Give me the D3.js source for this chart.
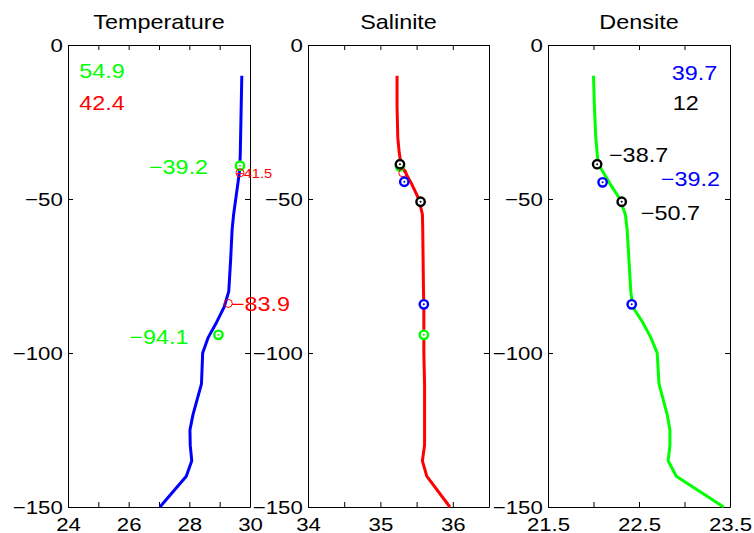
<!DOCTYPE html>
<meta charset="utf-8">
<style>
body { margin: 0; background: #fff; }
svg { font-family: "Liberation Sans", Arial, sans-serif; }
</style>
<body>
<script src="https://cdn.jsdelivr.net/npm/d3@7"></script>
<script>

// profile depths (m) and the three profiles
var depth = [-10, -20, -30, -35, -38, -40, -42, -45, -50, -55, -60, -70, -80, -85, -90, -95, -100, -110, -120, -125, -130, -135, -140, -150];
var temperature = [29.73, 29.71, 29.69, 29.68, 29.67, 29.66, 29.64, 29.60, 29.53, 29.46, 29.41, 29.36, 29.30, 29.15, 28.90, 28.62, 28.44, 28.40, 28.12, 28.02, 28.03, 28.08, 27.90, 27.03];
var salinite = [35.23, 35.23, 35.24, 35.26, 35.28, 35.31, 35.36, 35.43, 35.53, 35.58, 35.585, 35.59, 35.595, 35.60, 35.60, 35.60, 35.60, 35.61, 35.61, 35.61, 35.61, 35.58, 35.64, 35.96];
var densite = [22.00, 22.01, 22.025, 22.04, 22.05, 22.08, 22.12, 22.18, 22.29, 22.35, 22.37, 22.39, 22.41, 22.43, 22.54, 22.63, 22.70, 22.72, 22.81, 22.84, 22.84, 22.82, 22.91, 23.43];

// markers: panel, group, depth, value
var markers = [
    ["T", "vert", -39.2, 29.67], ["T", "vert", -94.1, 28.96],
    ["T", "rouge", -41.5, 29.67], ["T", "rouge", -83.9, 29.285],
    ["S", "vert", -39.4, 35.27], ["S", "vert", -94.1, 35.60],
    ["S", "rouge", -41.5, 35.31],
    ["S", "bleu", -44.4, 35.33], ["S", "bleu", -84.2, 35.60],
    ["S", "noir", -38.7, 35.27], ["S", "noir", -50.9, 35.555],
    ["D", "bleu", -44.6, 22.10], ["D", "bleu", -84.2, 22.42],
    ["D", "noir", -38.7, 22.04], ["D", "noir", -50.9, 22.31]
];

// text labels: panel, text, group
var labels = [
    ["T", "54.9", "vert"], ["T", "42.4", "rouge"], ["T", "\u221239.2", "vert"],
    ["T", "\u221241.5", "rouge"], ["T", "\u221283.9", "rouge"], ["T", "\u221294.1", "vert"],
    ["D", "39.7", "bleu"], ["D", "12", "noir"], ["D", "\u221238.7", "noir"],
    ["D", "\u221239.2", "bleu"], ["D", "\u221250.7", "noir"]
];
// where each label sits, in data units (value, depth, anchor, size)
var labelPlace = [
    [24.37, -8.4, "start", 20], [24.37, -18.7, "start", 20], [28.62, -39.5, "end", 20],
    [29.51, -41.9, "start", 12.5], [29.37, -84.1, "start", 20], [27.97, -94.7, "end", 20],
    [22.86, -9.2, "start", 20], [22.87, -18.7, "start", 20], [22.17, -35.7, "start", 20],
    [22.74, -43.5, "start", 20], [22.52, -54.6, "start", 20]
];

var yTicks = [0, -50, -100, -150];

var colors = {vert: "#00ff00", rouge: "#ff0000", bleu: "#0000ff", noir: "#000000"};
var sx = 1.17; // the figure text is stretched sideways

var panels = [
    {key: "T", title: "Temperature", left: 68, right: 250, domain: [24, 30], step: 1, shown: [24, 26, 28, 30], values: temperature, color: "#0000ff"},
    {key: "S", title: "Salinite", left: 308, right: 489, domain: [34, 36.5], step: 0.5, shown: [34, 35, 36], values: salinite, color: "#ff0000"},
    {key: "D", title: "Densite", left: 548, right: 730, domain: [21.5, 23.5], step: 0.5, shown: [21.5, 22.5, 23.5], values: densite, color: "#00ff00"}
];

var plotTop = 45, plotBottom = 507;

var svg = d3.select("body").append("svg")
    .attr("width", 754)
    .attr("height", 533);

var y = d3.scaleLinear().domain([0, -150]).range([plotTop, plotBottom]);

function fmt(v) {
    return (v < 0 ? "\u2212" : "") + Math.abs(v);
}

function styleAxis(g) {
    g.attr("font-family", null).attr("font-size", null);
    g.selectAll("path, line").attr("stroke", "#000").attr("stroke-width", 1);
    g.selectAll("text")
        .attr("fill", "#000")
        .style("font-size", "19px")
        .attr("transform", "scale(" + sx + ",1)");
}

panels.forEach(function (p) {
    var x = d3.scaleLinear().domain(p.domain).range([p.left, p.right]);
    var ticks = d3.range(p.domain[0], p.domain[1] + 1e-9, p.step);

    // title
    svg.append("text")
        .attr("transform", "translate(" + (p.left + p.right) / 2 + ",29) scale(" + sx + ",1)")
        .attr("text-anchor", "middle")
        .style("font-size", "20px")
        .text(p.title);

    // axes, ticks pointing in, box all round
    svg.append("g")
        .attr("transform", "translate(0," + plotBottom + ")")
        .call(d3.axisBottom(x).tickValues(ticks).tickSize(-5).tickSizeOuter(0).tickPadding(10.5)
            .tickFormat(function (d) {
                return p.shown.some(function (s) { return Math.abs(s - d) < 1e-9; }) ? fmt(d) : "";
            }))
        .call(styleAxis);
    svg.append("g")
        .attr("transform", "translate(0," + plotTop + ")")
        .call(d3.axisTop(x).tickValues(ticks).tickSize(-5).tickSizeOuter(0).tickFormat(""))
        .call(styleAxis);
    svg.append("g")
        .attr("transform", "translate(" + p.left + ",0)")
        .call(d3.axisLeft(y).tickValues(yTicks).tickSize(-5).tickSizeOuter(0).tickPadding(4.5).tickFormat(fmt))
        .call(styleAxis);
    svg.append("g")
        .attr("transform", "translate(" + p.right + ",0)")
        .call(d3.axisRight(y).tickValues(yTicks).tickSize(-5).tickSizeOuter(0).tickFormat(""))
        .call(styleAxis);

    // profile
    var line = d3.line()
        .x(function (d, i) { return x(p.values[i]); })
        .y(function (d) { return y(d); });
    svg.append("path")
        .datum(depth)
        .attr("d", line)
        .attr("fill", "none")
        .attr("stroke", p.color)
        .attr("stroke-width", 3)
        .attr("stroke-linejoin", "round");

    // markers
    var order = ["vert", "rouge", "bleu", "noir"];
    var mk = markers.filter(function (m) { return m[0] == p.key; })
        .sort(function (a, b) { return order.indexOf(a[1]) - order.indexOf(b[1]); });
    mk.forEach(function (m) {
        var cx = x(m[3]), cy = y(m[2]);
        if (m[1] == "rouge") {
            svg.append("circle")
                .attr("cx", cx).attr("cy", cy).attr("r", 4)
                .attr("fill", "none")
                .attr("stroke", colors.rouge)
                .attr("stroke-width", 1);
        } else {
            svg.append("circle")
                .attr("cx", cx).attr("cy", cy).attr("r", 4.2)
                .attr("fill", "#fff")
                .attr("stroke", colors[m[1]])
                .attr("stroke-width", 2.4);
            svg.append("circle")
                .attr("cx", cx).attr("cy", cy).attr("r", 1)
                .attr("fill", colors[m[1]]);
        }
    });

    // labels
    labels.forEach(function (l, i) {
        if (l[0] != p.key) return;
        var pl = labelPlace[i];
        svg.append("text")
            .attr("transform", "translate(" + x(pl[0]) + "," + y(pl[1]) + ") scale(" + sx + ",1)")
            .attr("text-anchor", pl[2])
            .attr("dy", "0.35em")
            .attr("fill", colors[l[2]])
            .style("font-size", pl[3] + "px")
            .text(l[1]);
    });
});

</script>
</body>
